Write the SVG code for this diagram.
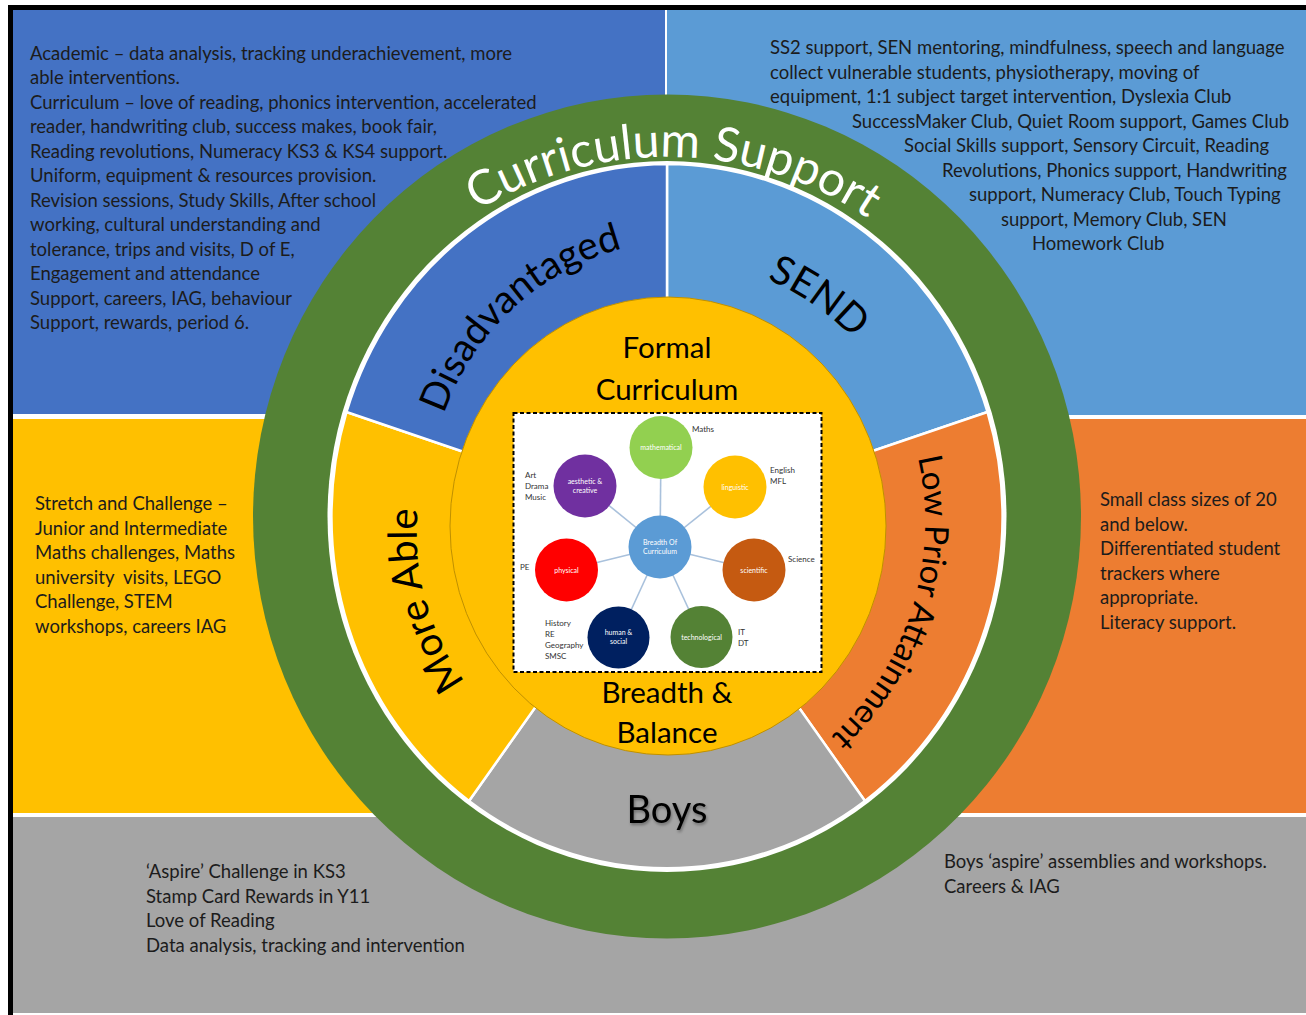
<svg xmlns="http://www.w3.org/2000/svg" width="1306" height="1015" viewBox="0 0 1306 1015">
<style>
.t{font-family:Lato,"Liberation Sans",sans-serif;font-size:18.5px;fill:#1c1c1c}
.lab{font-family:Lato,"Liberation Sans",sans-serif;fill:#000}
.cs{font-family:Lato,"Liberation Sans",sans-serif;fill:#fff;font-size:48px}
.small{font-family:Lato,"Liberation Sans",sans-serif;font-size:8px;fill:#333}
.inl{font-family:Lato,"Liberation Sans",sans-serif;font-size:7px;fill:#fff;text-anchor:middle}
.sec{stroke:#fff;stroke-width:2.5;stroke-linejoin:round}
.spoke{stroke:#a9c1dc;stroke-width:1.6;fill:none}
</style>
<defs>
<path id="pCS" d="M667,877 A360,360 0 0 1 667,157 A360,360 0 0 1 667,877"/>
<path id="pDis" d="M667,776 A259,259 0 0 1 667,258 A259,259 0 0 1 667,776"/>
<path id="pSEND" d="M667,775 A258,258 0 0 1 667,259 A258,258 0 0 1 667,775"/>
<path id="pLPA" d="M633,814 A292,292 0 0 1 633,230 A292,292 0 0 1 633,814"/>
<path id="pMA" d="M667,767 A250,250 0 0 1 667,267 A250,250 0 0 1 667,767"/>
<filter id="sh" x="-20%" y="-20%" width="140%" height="160%"><feDropShadow dx="1" dy="2" stdDeviation="1.5" flood-color="#000" flood-opacity="0.35"/></filter>
</defs>
<rect width="1306" height="1015" fill="#fff"/>
<g id="background">
<rect x="13" y="10" width="652" height="404" fill="#4472C4"/>
<rect x="667" y="10" width="639" height="405" fill="#5B9BD5"/>
<rect x="13" y="419" width="653" height="394" fill="#FFC000"/>
<rect x="667" y="419" width="639" height="394" fill="#ED7D31"/>
<rect x="13" y="817" width="1293" height="196" fill="#A5A5A5"/>
<rect x="8" y="5" width="5" height="1010" fill="#000"/>
<rect x="8" y="5" width="1298" height="5" fill="#000"/>
</g>
<g id="ring">
<ellipse cx="667" cy="516.5" rx="414" ry="422" fill="#548235"/>
<ellipse cx="667" cy="516.5" rx="339.5" ry="355.5" fill="#fff"/>
<text class="cs"><textPath href="#pCS" startOffset="50.3%" text-anchor="middle">Curriculum Support</textPath></text>
</g>
<g id="send"><path class="sec" d="M667,521 L667,164 A337,353 0 0 1 987.5,412 Z" fill="#5B9BD5"/>
<text class="lab" font-size="40"><textPath href="#pSEND" startOffset="59.6%" text-anchor="middle">SEND</textPath></text></g>
<g id="lpa"><path class="sec" d="M667,521 L987.5,412 A337,353 0 0 1 865,801 Z" fill="#ED7D31"/>
<text class="lab" font-size="33"><textPath href="#pLPA" startOffset="79.8%" text-anchor="middle">Low Prior Attainment</textPath></text></g>
<g id="boys"><path class="sec" d="M667,521 L865,801 A337,353 0 0 1 469,801 Z" fill="#A5A5A5"/>
<text class="lab" font-size="38" x="667" y="823" text-anchor="middle" filter="url(#sh)">Boys</text></g>
<g id="moreable"><path class="sec" d="M667,521 L469,801 A337,353 0 0 1 346.5,412 Z" fill="#FFC000"/>
<text class="lab" font-size="40" transform="rotate(3.7 410 520)"><textPath href="#pMA" startOffset="19.7%" text-anchor="middle">More Able</textPath></text></g>
<g id="disadvantaged"><path class="sec" d="M667,521 L346.5,412 A337,353 0 0 1 667,164 Z" fill="#4472C4"/>
<text class="lab" font-size="39" transform="rotate(-6.5 519 317)"><textPath href="#pDis" startOffset="39.9%" text-anchor="middle">Disadvantaged</textPath></text></g>
<g id="formal">
<ellipse cx="668" cy="526" rx="218" ry="229" fill="#FFC000" stroke="#BF9000" stroke-width="1"/>
<text class="lab" font-size="29.5" text-anchor="middle"><tspan x="667" y="358">Formal</tspan><tspan x="667" y="400">Curriculum</tspan><tspan x="667" y="703">Breadth &amp;</tspan><tspan x="667" y="743">Balance</tspan></text>
<rect x="513.5" y="413" width="308" height="259" fill="#fff" stroke="#000" stroke-width="2" stroke-dasharray="4 2.5"/>
</g>
<g id="connectors">
<line class="spoke" x1="660" y1="547" x2="661" y2="447.5"/>
<line class="spoke" x1="660" y1="547" x2="735" y2="487"/>
<line class="spoke" x1="660" y1="547" x2="585" y2="486"/>
<line class="spoke" x1="660" y1="547" x2="566.5" y2="570"/>
<line class="spoke" x1="660" y1="547" x2="754" y2="570"/>
<line class="spoke" x1="660" y1="547" x2="618.5" y2="637.5"/>
<line class="spoke" x1="660" y1="547" x2="701.5" y2="637"/>
</g>
<g id="centre"><circle cx="660" cy="547" r="31.5" fill="#5B9BD5"/><text class="inl"><tspan x="660" y="545">Breadth Of</tspan><tspan x="660" y="554">Curriculum</tspan></text></g>
<g id="mathematical"><circle cx="661" cy="447.5" r="31.5" fill="#92D050"/><text class="inl" x="661" y="450">mathematical</text><text class="small" x="692" y="432">Maths</text></g>
<g id="linguistic"><circle cx="735" cy="487" r="31.5" fill="#FFC000"/><text class="inl" x="735" y="490">linguistic</text><text class="small"><tspan x="770" y="473">English</tspan><tspan x="770" y="484">MFL</tspan></text></g>
<g id="aesthetic"><circle cx="585" cy="486" r="31.5" fill="#7030A0"/><text class="inl"><tspan x="585" y="484">aesthetic &amp;</tspan><tspan x="585" y="493">creative</tspan></text><text class="small"><tspan x="525" y="478">Art</tspan><tspan x="525" y="489">Drama</tspan><tspan x="525" y="500">Music</tspan></text></g>
<g id="physical"><circle cx="566.5" cy="570" r="31.5" fill="#FF0000"/><text class="inl" x="566.5" y="573">physical</text><text class="small" x="520" y="570">PE</text></g>
<g id="scientific"><circle cx="754" cy="570" r="31.5" fill="#C55A11"/><text class="inl" x="754" y="573">scientific</text><text class="small" x="788" y="562">Science</text></g>
<g id="human"><circle cx="618.5" cy="637.5" r="31" fill="#002060"/><text class="inl"><tspan x="618.5" y="635">human &amp;</tspan><tspan x="618.5" y="644">social</tspan></text><text class="small"><tspan x="545" y="626">History</tspan><tspan x="545" y="637">RE</tspan><tspan x="545" y="648">Geography</tspan><tspan x="545" y="659">SMSC</tspan></text></g>
<g id="technological"><circle cx="701.5" cy="637" r="31" fill="#548235"/><text class="inl" x="701.5" y="640">technological</text><text class="small"><tspan x="738" y="635">IT</tspan><tspan x="738" y="646">DT</tspan></text></g>
<g id="text-disadvantaged">
<text class="t"><tspan x="30" y="59.5">Academic – data analysis, tracking underachievement, more</tspan><tspan x="30" y="84">able interventions.</tspan><tspan x="30" y="108.5">Curriculum – love of reading, phonics intervention, accelerated</tspan><tspan x="30" y="133">reader, handwriting club, success makes, book fair,</tspan><tspan x="30" y="157.5">Reading revolutions, Numeracy KS3 &amp; KS4 support.</tspan><tspan x="30" y="182">Uniform, equipment &amp; resources provision.</tspan><tspan x="30" y="206.5">Revision sessions, Study Skills, After school</tspan><tspan x="30" y="231">working, cultural understanding and</tspan><tspan x="30" y="255.5">tolerance, trips and visits, D of E,</tspan><tspan x="30" y="280">Engagement and attendance</tspan><tspan x="30" y="304.5">Support, careers, IAG, behaviour</tspan><tspan x="30" y="329">Support, rewards, period 6.</tspan></text>
</g>
<g id="text-send">
<text class="t"><tspan x="770" y="54">SS2 support, SEN mentoring, mindfulness, speech and language</tspan><tspan x="770" y="78.5">collect vulnerable students, physiotherapy, moving of</tspan><tspan x="770" y="103">equipment, 1:1 subject target intervention, Dyslexia Club</tspan><tspan x="852" y="127.5">SuccessMaker Club, Quiet Room support, Games Club</tspan><tspan x="904" y="152">Social Skills support, Sensory Circuit, Reading</tspan><tspan x="942" y="176.5">Revolutions, Phonics support, Handwriting</tspan><tspan x="969" y="201">support, Numeracy Club, Touch Typing</tspan><tspan x="1001" y="225.5">support, Memory Club, SEN</tspan><tspan x="1032" y="250">Homework Club</tspan></text>
</g>
<g id="text-moreable">
<text class="t" xml:space="preserve"><tspan x="35" y="510">Stretch and Challenge –</tspan><tspan x="35" y="534.5">Junior and Intermediate</tspan><tspan x="35" y="559">Maths challenges, Maths</tspan><tspan x="35" y="583.5">university  visits, LEGO</tspan><tspan x="35" y="608">Challenge, STEM</tspan><tspan x="35" y="632.5">workshops, careers IAG</tspan></text>
</g>
<g id="text-lpa">
<text class="t"><tspan x="1100" y="506">Small class sizes of 20</tspan><tspan x="1100" y="530.5">and below.</tspan><tspan x="1100" y="555">Differentiated student</tspan><tspan x="1100" y="579.5">trackers where</tspan><tspan x="1100" y="604">appropriate.</tspan><tspan x="1100" y="628.5">Literacy support.</tspan></text>
</g>
<g id="text-boys-left">
<text class="t"><tspan x="146" y="878">‘Aspire’ Challenge in KS3</tspan><tspan x="146" y="902.5">Stamp Card Rewards in Y11</tspan><tspan x="146" y="927">Love of Reading</tspan><tspan x="146" y="951.5">Data analysis, tracking and intervention</tspan></text>
</g>
<g id="text-boys-right">
<text class="t"><tspan x="944" y="868">Boys ‘aspire’ assemblies and workshops.</tspan><tspan x="944" y="892.5">Careers &amp; IAG</tspan></text>
</g>
</svg>
